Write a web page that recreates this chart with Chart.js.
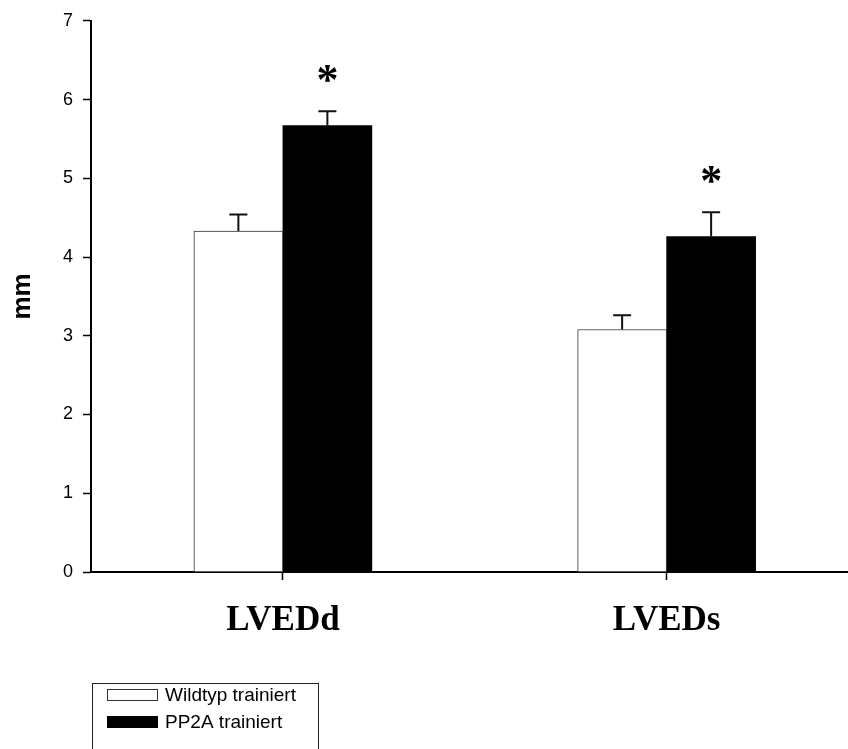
<!DOCTYPE html>
<html>
<head>
<meta charset="utf-8">
<script src="https://cdn.jsdelivr.net/npm/chart.js@4.4.1/dist/chart.umd.min.js"></script>
<style>
  html, body { margin: 0; padding: 0; background: #fff; }
  canvas { display: block; }
</style>
</head>
<body>
<canvas id="echoChart" width="848" height="749"></canvas>
<script>
// Echo diameters (mm)
const categories = ['LVEDd', 'LVEDs'];
const seriesLabels = ['Wildtyp trainiert', 'PP2A trainiert'];
const wildtypMean = [4.33, 3.08];
const wildtypSem = [0.21, 0.18];
const pp2aMean = [5.67, 4.26];
const pp2aSem = [0.18, 0.31];
const pp2aMarks = ['*', '*'];
const yTicks = [0, 1, 2, 3, 4, 5, 6, 7];

// bars sit on a linear x axis so the categories can be placed freely
const toPoints = (values) => values.map((v, i) => ({ x: i + 1, y: v }));

/**
 * Error bars (upper half only) and significance stars
 */
const errorBarPlugin = {
    id: 'errorBars',
    afterDatasetsDraw(chart) {
        const ctx = chart.ctx;
        const yScale = chart.scales.y;
        ctx.save();
        chart.data.datasets.forEach((ds, di) => {
            const meta = chart.getDatasetMeta(di);
            meta.data.forEach((bar, i) => {
                const top = yScale.getPixelForValue(ds.data[i].y + ds.errors[i]);
                ctx.strokeStyle = '#111';
                ctx.lineWidth = 2;
                ctx.beginPath();
                ctx.moveTo(bar.x, bar.y);
                ctx.lineTo(bar.x, top);
                ctx.moveTo(bar.x - 9, top);
                ctx.lineTo(bar.x + 9, top);
                ctx.stroke();

                if (ds.marks && ds.marks[i]) {
                    ctx.fillStyle = '#000';
                    ctx.font = 'bold 44px "Liberation Serif"';
                    ctx.textAlign = 'center';
                    ctx.textBaseline = 'middle';
                    ctx.fillText(ds.marks[i], bar.x, top - 29);
                }
            });
        });
        ctx.restore();
    }
};

/**
 * Framed legend below the axis
 */
const boxLegendPlugin = {
    id: 'boxLegend',
    afterDraw(chart) {
        const ctx = chart.ctx;
        const left = chart.chartArea.left + 1;
        const top = 683;
        ctx.save();
        ctx.strokeStyle = '#222';
        ctx.lineWidth = 1;
        ctx.strokeRect(left + 0.5, top + 0.5, 226, 100);

        ctx.font = '19px "Liberation Sans"';
        ctx.textAlign = 'left';
        ctx.textBaseline = 'middle';
        chart.data.datasets.forEach((ds, i) => {
            const rowY = top + 12 + i * 27;
            ctx.fillStyle = ds.backgroundColor;
            ctx.fillRect(left + 15, rowY - 6, 51, 12);
            ctx.strokeStyle = ds.borderColor;
            ctx.strokeRect(left + 15.5, rowY - 5.5, 50, 11);
            ctx.fillStyle = '#000';
            ctx.fillText(ds.label, left + 73, rowY + 1);
        });
        ctx.restore();
    }
};

new Chart(document.getElementById('echoChart'), {
    type: 'bar',
    data: {
        datasets: [{
            label: seriesLabels[0],
            data: toPoints(wildtypMean),
            errors: wildtypSem,
            backgroundColor: '#ffffff',
            borderColor: '#333333',
            borderWidth: 1
        }, {
            label: seriesLabels[1],
            data: toPoints(pp2aMean),
            errors: pp2aSem,
            marks: pp2aMarks,
            backgroundColor: '#000000',
            borderColor: '#000000',
            borderWidth: 0
        }]
    },
    options: {
        responsive: false,
        animation: false,
        barThickness: 89,
        layout: { padding: { top: 16, right: 1, bottom: 0, left: 0 } },
        scales: {
            x: {
                type: 'linear',
                min: 0.5,
                max: 2.47,
                offset: false,
                afterBuildTicks: (s) => { s.ticks = categories.map((c, i) => ({ value: i + 1 })); },
                afterFit: (s) => { s.height = 177; },
                border: { display: true, color: '#000', width: 2 },
                grid: {
                    offset: false,
                    drawOnChartArea: false,
                    tickLength: 8,
                    tickColor: '#000',
                    tickWidth: 1.5
                },
                ticks: {
                    callback: (v) => categories[v - 1] ?? '',
                    autoSkip: false,
                    maxRotation: 0,
                    padding: 20,
                    color: '#000',
                    font: { family: 'Liberation Serif', size: 35, weight: 'bold' }
                }
            },
            y: {
                min: 0,
                max: 7,
                afterBuildTicks: (s) => { s.ticks = yTicks.map((v) => ({ value: v })); },
                afterFit: (s) => { s.width = 91; },
                border: { display: true, color: '#000', width: 2 },
                grid: {
                    drawOnChartArea: false,
                    tickLength: 8,
                    tickColor: '#000',
                    tickWidth: 1.5
                },
                ticks: {
                    padding: 10,
                    color: '#000',
                    font: { family: 'Liberation Sans', size: 18 }
                },
                title: {
                    display: true,
                    text: 'mm',
                    color: '#000',
                    padding: { top: 7, bottom: 0 },
                    font: { family: 'Liberation Sans', size: 26, weight: 'bold' }
                }
            }
        },
        plugins: {
            legend: { display: false },
            tooltip: { enabled: false }
        }
    },
    plugins: [errorBarPlugin, boxLegendPlugin]
});
</script>
</body>
</html>
